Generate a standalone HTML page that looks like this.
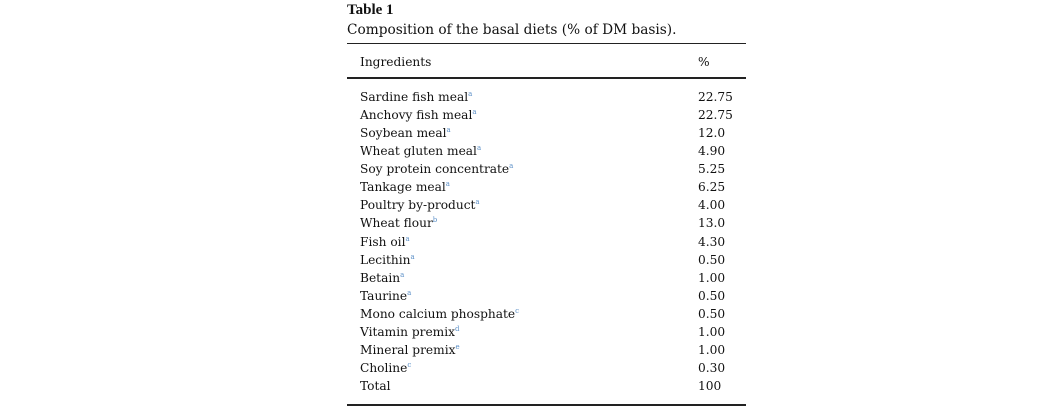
<!DOCTYPE html>
<html><head><style>
body{margin:0;background:#fff;width:1051px;height:407px;position:relative;font-family:"DejaVu Serif",serif;color:#111;overflow:hidden}
div{position:absolute;white-space:nowrap}
.t{font-family:"Liberation Serif",serif;font-weight:bold;font-size:15px;left:347px;top:2px}
.c{font-size:13.7px;left:347px;top:22px}
.r{position:absolute;left:347px;width:399px;background:#222}
.row{font-size:12.2px;line-height:18.06px}
sup{color:#5b8fc7;font-size:7px;vertical-align:5px;line-height:0}
</style></head><body>
<div class="t">Table 1</div>
<div class="c">Composition of the basal diets (% of DM basis).</div>
<div class="r" style="top:43px;height:1px"></div>
<div class="row" style="left:360px;top:53px">Ingredients</div>
<div class="row" style="left:698px;top:53px">%</div>
<div class="r" style="top:77px;height:2px"></div>
<div class="row" style="left:360px;top:88px">
Sardine fish meal<sup>a</sup><br>Anchovy fish meal<sup>a</sup><br>Soybean meal<sup>a</sup><br>Wheat gluten meal<sup>a</sup><br>Soy protein concentrate<sup>a</sup><br>Tankage meal<sup>a</sup><br>Poultry by-product<sup>a</sup><br>Wheat flour<sup>b</sup><br>Fish oil<sup>a</sup><br>Lecithin<sup>a</sup><br>Betain<sup>a</sup><br>Taurine<sup>a</sup><br>Mono calcium phosphate<sup>c</sup><br>Vitamin premix<sup>d</sup><br>Mineral premix<sup>e</sup><br>Choline<sup>c</sup><br>Total</div>
<div class="row" style="left:698px;top:88px">22.75<br>22.75<br>12.0<br>4.90<br>5.25<br>6.25<br>4.00<br>13.0<br>4.30<br>0.50<br>1.00<br>0.50<br>0.50<br>1.00<br>1.00<br>0.30<br>100</div>
<div class="r" style="top:404px;height:2px"></div>
</body></html>
